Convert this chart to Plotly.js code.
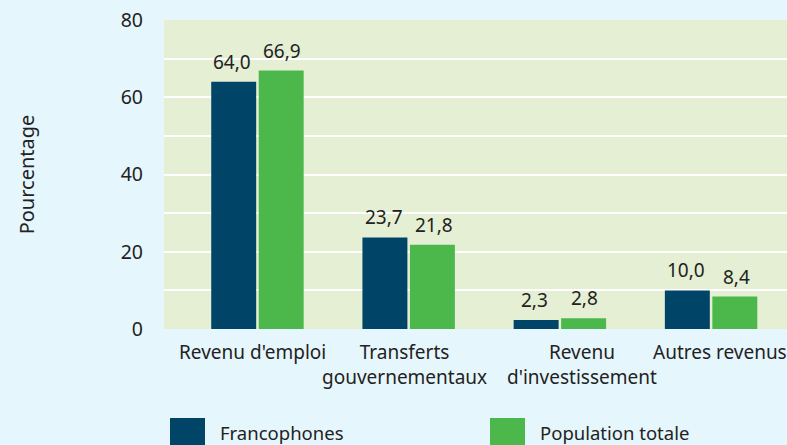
<!DOCTYPE html>
<html>
<head>
<meta charset="utf-8">
<script src="https://cdn.plot.ly/plotly-3.0.1.min.js"></script>
<style>
html,body{margin:0;padding:0;background:#e6f6fd;}
#chart{width:787px;height:445px;}
</style>
</head>
<body>
<div id="chart"></div>
<script>
const categories = ["Revenu d'emploi", "Transferts<br>gouvernementaux", "Revenu<br>d'investissement", "Autres revenus"];
const seriesNames = ["Francophones", "Population totale"];
const francophones = [64.0, 23.7, 2.3, 10.0];
const populationTotale = [66.9, 21.8, 2.8, 8.4];
const yTickVals = [0, 20, 40, 60, 80];
const yTickText = ["0", "20", "40", "60", "80"];
const colors = ["#004468", "#4cb84c"];

const fontFam = "Noto Sans, Open Sans, sans-serif";
const series = [francophones, populationTotale];
const labelShift = [-5, -4, 22, 9];

const traces = series.map((vals, i) => ({
  type: "bar",
  name: seriesNames[i],
  x: categories,
  y: vals,
  marker: {color: colors[i]},
  hoverinfo: "x+y",
  showlegend: false
}));

const fmt = v => v.toFixed(1).replace(".", ",");
const annotations = [];
series.forEach((vals, i) => {
  vals.forEach((v, j) => {
    annotations.push({
      x: categories[j], y: v, xref: "x", yref: "y",
      text: fmt(v), showarrow: false,
      yanchor: "bottom", yshift: 5, xshift: i === 0 ? -25 : 25,
      font: {family: fontFam, size: 19, color: "#222"}
    });
  });
});

// category labels under the axis
categories.forEach((c, j) => {
  annotations.push({
    x: c, y: 0, xref: "x", yref: "y",
    text: c, showarrow: false, align: "center",
    xanchor: "center", yanchor: "top", yshift: -8, xshift: labelShift[j],
    font: {family: fontFam, size: 19, color: "#222"}
  });
});

// custom legend (pixel positions converted to paper coords)
const legendX = [170, 490];
const shapes = [];
seriesNames.forEach((n, i) => {
  shapes.push({type: "rect", xref: "paper", yref: "paper",
    x0: (legendX[i] - 164) / 623, x1: (legendX[i] + 35 - 164) / 623,
    y0: (329 - 445) / 309, y1: (329 - 418) / 309,
    fillcolor: colors[i], line: {width: 0}});
  annotations.push({xref: "paper", yref: "paper",
    x: (legendX[i] + 49 - 164) / 623, y: (329 - 432) / 309,
    xanchor: "left", yanchor: "middle", text: n, showarrow: false,
    borderpad: 0,
    font: {family: fontFam, size: 18.5, color: "#222"}});
});

const layout = {
  width: 787, height: 445,
  margin: {l: 164, r: 0, t: 20, b: 116},
  paper_bgcolor: "#e6f6fd",
  plot_bgcolor: "#e5efd3",
  barmode: "group",
  bargap: 0.372,
  bargroupgap: 0.053,
  font: {family: fontFam, size: 19, color: "#222"},
  xaxis: {
    type: "category",
    range: [-0.618, 3.502],
    showgrid: false, zeroline: false, showline: false,
    ticks: "", showticklabels: false
  },
  yaxis: {
    range: [0, 80],
    tickvals: yTickVals, ticktext: yTickText,
    showgrid: true, gridcolor: "#ffffff", gridwidth: 2,
    minor: {dtick: 10, showgrid: true, gridcolor: "#ffffff", gridwidth: 2},
    zeroline: false, showline: false, ticks: "",
    ticklabelstandoff: 20,
    tickfont: {family: fontFam, size: 19.5, color: "#222"},
    title: {text: "Pourcentage", standoff: 80, font: {family: fontFam, size: 20, color: "#222"}}
  },
  shapes: shapes,
  annotations: annotations
};

Plotly.newPlot("chart", traces, layout, {displayModeBar: false, staticPlot: true});
</script>
</body>
</html>
